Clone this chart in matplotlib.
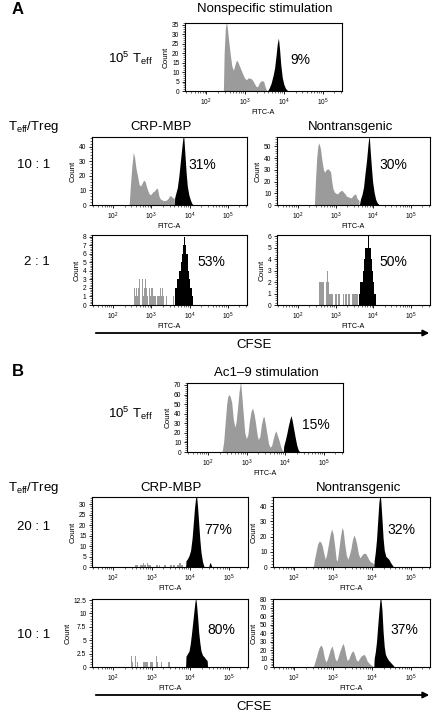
import numpy as np
import matplotlib
matplotlib.use('Agg')
import matplotlib.pyplot as plt
from matplotlib.ticker import MultipleLocator, LogLocator, NullFormatter
from matplotlib.patches import FancyArrowPatch

plt.rcParams['font.family'] = ['Liberation Sans', 'DejaVu Sans']
plt.rcParams['mathtext.default'] = 'regular'

W, H = 445, 718
GRAY = '#9b9b9b'

# ---- data: log10(FITC-A) positions and counts ----
# A, nonspecific stimulation, 10^5 Teff
a_top_gray_x = [2.44, 2.46, 2.49, 2.52, 2.55, 2.58, 2.62, 2.66, 2.70, 2.74, 2.77, 2.80, 2.84, 2.88, 2.92, 2.96,
                3.00, 3.04, 3.08, 3.12, 3.16, 3.20, 3.24, 3.28, 3.32, 3.36, 3.40, 3.44, 3.48, 3.52, 3.56]
a_top_gray_y = [0, 20, 33, 37, 32, 26, 19, 13, 11, 14, 16, 16, 14, 12, 10, 8,
                6.5, 6, 7, 6.8, 6.5, 5.5, 4, 2.5, 2.2, 4, 5.2, 5.5, 5, 2, 0]
a_top_black_x = [3.58, 3.62, 3.67, 3.72, 3.76, 3.80, 3.83, 3.86, 3.89, 3.92, 3.96, 4.00, 4.04, 4.08, 4.12]
a_top_black_y = [0, 1.5, 4, 8, 12, 19, 25, 28, 22, 14, 7, 3.5, 1.5, 0.5, 0]

# A, 10:1, CRP-MBP
a_crp10_gray_x = [2.42, 2.45, 2.49, 2.53, 2.56, 2.60, 2.64, 2.68, 2.72, 2.76, 2.80, 2.84, 2.88, 2.92, 2.96, 3.00,
                  3.04, 3.08, 3.12, 3.16, 3.20, 3.24, 3.28, 3.32, 3.36, 3.40, 3.44, 3.48, 3.52, 3.56, 3.60]
a_crp10_gray_y = [0, 12, 26, 36, 33, 25, 20, 14, 13, 15, 17, 16, 12, 9, 7, 7.5,
                  9, 9.5, 11, 11.5, 6, 4, 3.5, 3, 3, 3.5, 4.5, 6.5, 6, 5, 4.5]
a_crp10_black_x = [3.60, 3.61, 3.64, 3.68, 3.72, 3.76, 3.80, 3.83, 3.85, 3.88, 3.91, 3.94, 3.98, 4.02, 4.06, 4.10]
a_crp10_black_y = [0, 5, 8, 12, 20, 30, 40, 47, 46, 34, 22, 13, 7, 3.5, 1, 0]

# A, 10:1, nontransgenic
a_non10_gray_x = [2.44, 2.47, 2.50, 2.53, 2.56, 2.60, 2.64, 2.68, 2.71, 2.75, 2.79, 2.83, 2.87, 2.90, 2.93, 2.97,
                  3.01, 3.05, 3.09, 3.13, 3.17, 3.21, 3.25, 3.29, 3.33, 3.37, 3.41, 3.45, 3.49, 3.53, 3.57, 3.62]
a_non10_gray_y = [0, 22, 40, 50, 53, 48, 38, 30, 28, 30, 31, 30, 28, 20, 14, 11,
                  10, 9.5, 11, 12, 12.5, 11, 9.5, 7.5, 7, 6.5, 6, 7.5, 9, 9.5, 5.5, 4]
a_non10_black_x = [3.63, 3.66, 3.70, 3.74, 3.78, 3.82, 3.86, 3.89, 3.92, 3.95, 3.98, 4.02, 4.06, 4.10, 4.16]
a_non10_black_y = [0, 5, 9, 15, 27, 38, 52, 60, 45, 32, 20, 11, 5, 2, 0]

# A, 2:1, CRP-MBP (few events, binned)
a_crp2_gray_x = [2.55, 2.58, 2.61, 2.64, 2.67, 2.70, 2.73, 2.76, 2.79, 2.82, 2.85, 2.88, 2.91, 2.94, 2.97, 3.00,
                 3.03, 3.06, 3.09, 3.12, 3.15, 3.18, 3.21, 3.24, 3.27, 3.30, 3.33, 3.39, 3.57]
a_crp2_gray_y = [2, 1, 2, 1, 2, 3, 2, 3, 1, 2, 3, 2, 1, 2, 1, 2,
                 2, 1, 1, 1, 1, 1, 1, 2, 1, 2, 1, 1, 1]
a_crp2_black_x = [3.63, 3.66, 3.69, 3.72, 3.75, 3.78, 3.81, 3.84, 3.87, 3.90, 3.93, 3.96, 3.99, 4.02, 4.05, 4.08]
a_crp2_black_y = [2, 2, 3, 3, 4, 5, 6, 7, 8, 7, 6, 4, 3, 2, 2, 1]

# A, 2:1, nontransgenic
a_non2_gray_x = [2.57, 2.60, 2.63, 2.66, 2.69, 2.72, 2.75, 2.78, 2.81, 2.84, 2.87, 2.90, 2.93, 2.99, 3.02,
                 3.08, 3.11, 3.17, 3.20, 3.26, 3.29, 3.35, 3.38, 3.44, 3.47, 3.50, 3.53, 3.56, 3.59]
a_non2_gray_y = [2, 2, 2, 2, 2, 1, 2, 3, 2, 1, 1, 1, 1, 1, 1,
                 1, 1, 1, 1, 1, 1, 1, 1, 1, 1, 1, 1, 1, 1]
a_non2_black_x = [3.64, 3.67, 3.70, 3.73, 3.76, 3.79, 3.82, 3.85, 3.88, 3.91, 3.94, 3.97, 4.00, 4.03, 4.06]
a_non2_black_y = [1, 2, 2, 3, 4, 5, 5, 5, 6, 5, 4, 3, 2, 1, 1]

# B, Ac1-9 stimulation, 10^5 Teff
b_top_gray_x = [2.36, 2.40, 2.44, 2.48, 2.51, 2.54, 2.57, 2.61, 2.65, 2.69, 2.72, 2.76, 2.80, 2.84, 2.87, 2.91,
                2.95, 2.99, 3.03, 3.07, 3.11, 3.15, 3.19, 3.23, 3.27, 3.30, 3.34, 3.38, 3.42, 3.45, 3.49, 3.53,
                3.57, 3.61, 3.65, 3.69, 3.73, 3.76, 3.80, 3.84, 3.88, 3.92, 3.95]
b_top_gray_y = [0, 10, 30, 50, 58, 60, 58, 52, 35, 26, 30, 45, 62, 74, 60, 40,
                20, 14, 18, 32, 42, 46, 40, 30, 18, 13, 16, 28, 36, 37, 28, 18,
                8, 5, 7, 14, 20, 22, 17, 12, 6, 2, 0]
b_top_black_x = [3.95, 3.96, 4.00, 4.04, 4.08, 4.12, 4.15, 4.18, 4.22, 4.26, 4.30, 4.34, 4.38]
b_top_black_y = [0, 6, 12, 19, 27, 34, 38, 33, 24, 15, 7, 2, 0]

# B, 20:1, CRP-MBP
b_crp20_gray_x = [2.58, 2.61, 2.64, 2.67, 2.70, 2.73, 2.76, 2.79, 2.82, 2.85, 2.88, 2.91, 2.94, 2.97,
                  3.12, 3.15, 3.21, 3.33, 3.36, 3.48, 3.51, 3.57, 3.60, 3.66, 3.69, 3.72, 3.75, 3.78, 3.81]
b_crp20_gray_y = [1, 1, 1, 1, 1, 1, 1, 2, 1, 1, 2, 1, 1, 1,
                  1, 1, 1, 1, 1, 1, 1, 1, 1, 1, 1, 2, 2, 1, 1]
b_crp20_black_x = [3.88, 3.89, 3.93, 3.97, 4.01, 4.05, 4.08, 4.11, 4.14, 4.16, 4.19, 4.22, 4.25, 4.28, 4.32,
                   4.36, 4.48, 4.50, 4.52, 4.54, 4.56]
b_crp20_black_y = [0, 3, 4, 5.5, 8, 14, 21, 28, 33, 35, 29, 21, 13, 7, 2.5,
                   0, 0, 1.5, 2.2, 1.2, 0]

# B, 20:1, nontransgenic
b_non20_gray_x = [2.49, 2.52, 2.56, 2.60, 2.64, 2.68, 2.72, 2.76, 2.80, 2.84, 2.88, 2.92, 2.96, 3.00, 3.04,
                  3.08, 3.11, 3.15, 3.19, 3.23, 3.26, 3.30, 3.34, 3.38, 3.42, 3.46, 3.50, 3.54, 3.57, 3.61,
                  3.65, 3.69, 3.72, 3.76, 3.80, 3.84, 3.88, 3.92, 3.96, 4.00, 4.05]
b_non20_gray_y = [0, 5, 10, 15, 17, 16.5, 14, 9, 5, 9, 15, 21, 25, 22, 14,
                  5, 4, 12, 20, 26, 24, 15, 8, 5, 8, 12, 18, 21, 19, 15,
                  9, 6, 7, 8.5, 9, 9, 7, 5, 3.5, 3, 2]
b_non20_black_x = [4.05, 4.06, 4.09, 4.12, 4.15, 4.18, 4.21, 4.23, 4.26, 4.29, 4.32, 4.36, 4.40, 4.44, 4.48,
                   4.52, 4.56]
b_non20_black_y = [0, 4, 10, 18, 30, 42, 48, 44, 32, 19, 11, 7, 6, 5, 3, 1.5, 0]

# B, 10:1, CRP-MBP
b_crp10_gray_x = [2.47, 2.50, 2.59, 2.62, 2.78, 2.81, 2.84, 2.87, 2.90, 2.93, 2.96, 2.99, 3.02, 3.13, 3.16,
                  3.25, 3.44, 3.47]
b_crp10_gray_y = [2, 1, 2, 1, 1, 1, 1, 1, 1, 1, 1, 1, 1, 2, 1, 1, 1, 1]
b_crp10_black_x = [3.88, 3.89, 3.93, 3.97, 4.00, 4.03, 4.06, 4.09, 4.12, 4.14, 4.16, 4.19, 4.22, 4.25, 4.28,
                   4.32, 4.36, 4.40, 4.44, 4.45]
b_crp10_black_y = [0, 2, 2.5, 3, 4.3, 6, 8, 10, 12, 13, 12, 9.5, 6.5, 4.5, 3, 2.2, 1.9, 1.5, 1.2, 0]

# B, 10:1, nontransgenic
b_non10_gray_x = [2.49, 2.53, 2.57, 2.61, 2.65, 2.69, 2.73, 2.77, 2.81, 2.85, 2.89, 2.93, 2.97, 3.01, 3.05,
                  3.09, 3.13, 3.17, 3.21, 3.25, 3.28, 3.32, 3.36, 3.40, 3.44, 3.48, 3.52, 3.56, 3.60, 3.64,
                  3.68, 3.72, 3.76, 3.80, 3.84, 3.88, 3.92, 3.96, 4.00, 4.04]
b_non10_gray_y = [0, 6, 12, 19, 24, 26, 22, 12, 6, 9, 15, 21, 25, 19, 10,
                  7, 12, 18, 23, 28, 25, 16, 8, 9, 14, 18, 19, 14, 8, 7,
                  10, 13, 14, 15, 12, 7, 5, 3, 2, 0]
b_non10_black_x = [4.05, 4.06, 4.09, 4.12, 4.15, 4.18, 4.21, 4.23, 4.26, 4.29, 4.32, 4.35, 4.39, 4.43, 4.47,
                   4.51, 4.55, 4.58]
b_non10_black_y = [0, 10, 18, 30, 48, 65, 80, 82, 68, 42, 24, 15, 11, 8, 6, 4, 2, 0]

percents = ['9%', '31%', '30%', '53%', '50%', '15%', '77%', '32%', '80%', '37%']


def px_box(x0, y0, x1, y1):
    return [x0 / W, 1 - y1 / H, (x1 - x0) / W, (y1 - y0) / H]


def ftext(x, y, s, **kw):
    fig.text(x / W, 1 - y / H, s, **kw)


def smooth(ax, lx, y, c):
    ax.fill_between(10 ** np.array(lx), y, color=c, lw=0)


def bars(ax, lx, y, c, w):
    lx = np.array(lx)
    left = 10 ** (lx - w / 2)
    right = 10 ** (lx + w / 2)
    ax.bar(left, y, width=right - left, align='edge', color=c, lw=0)


def make_axes(box, ymax, major, minor, pct, pxy):
    ax = fig.add_axes(px_box(*box))
    ax.set_xscale('log')
    ax.set_xlim(10 ** 1.45, 10 ** 5.5)
    ax.set_ylim(0, ymax)
    ax.xaxis.set_major_locator(LogLocator(base=10, numticks=10))
    ax.xaxis.set_minor_locator(LogLocator(base=10, subs=np.arange(2, 10), numticks=20))
    ax.xaxis.set_minor_formatter(NullFormatter())
    ax.yaxis.set_major_locator(MultipleLocator(major))
    ax.yaxis.set_minor_locator(MultipleLocator(minor))
    ax.yaxis.set_major_formatter('{x:g}')
    ax.tick_params(which='major', direction='out', length=2.5, width=0.6, labelsize=4.8, pad=1.5)
    ax.tick_params(which='minor', direction='out', length=1.5, width=0.4)
    for s in ax.spines.values():
        s.set_linewidth(0.8)
    ax.set_xlabel('FITC-A', fontsize=5.2, labelpad=1)
    ax.set_ylabel('Count', fontsize=5.8, labelpad=1.5)
    ax.text(pxy[0], pxy[1], pct, transform=ax.transAxes, fontsize=10, va='center', ha='left')
    return ax


fig = plt.figure(figsize=(W / 100, H / 100), dpi=100)

# panel A
ax = make_axes((185, 23, 342, 91), 36, 5, 1, percents[0], (0.67, 0.46))
smooth(ax, a_top_gray_x, a_top_gray_y, GRAY)
smooth(ax, a_top_black_x, a_top_black_y, 'black')

ax = make_axes((92, 137, 247, 205), 46.5, 10, 2, percents[1], (0.62, 0.59))
smooth(ax, a_crp10_gray_x, a_crp10_gray_y, GRAY)
smooth(ax, a_crp10_black_x, a_crp10_black_y, 'black')

ax = make_axes((277, 137, 430, 205), 58, 10, 2, percents[2], (0.67, 0.59))
smooth(ax, a_non10_gray_x, a_non10_gray_y, GRAY)
smooth(ax, a_non10_black_x, a_non10_black_y, 'black')

ax = make_axes((92, 235, 247, 305), 8.2, 1, 0.2, percents[3], (0.68, 0.61))
bars(ax, a_crp2_gray_x, a_crp2_gray_y, GRAY, 0.025)
bars(ax, a_crp2_black_x, a_crp2_black_y, 'black', 0.031)

ax = make_axes((277, 235, 430, 305), 6.1, 1, 0.2, percents[4], (0.67, 0.61))
bars(ax, a_non2_gray_x, a_non2_gray_y, GRAY, 0.025)
bars(ax, a_non2_black_x, a_non2_black_y, 'black', 0.031)

# panel B
ax = make_axes((187, 383, 343, 452), 72, 10, 2, percents[5], (0.74, 0.39))
smooth(ax, b_top_gray_x, b_top_gray_y, GRAY)
smooth(ax, b_top_black_x, b_top_black_y, 'black')

ax = make_axes((92, 497, 248, 567), 33.5, 5, 1, percents[6], (0.72, 0.53))
bars(ax, b_crp20_gray_x, b_crp20_gray_y, GRAY, 0.025)
smooth(ax, b_crp20_black_x, b_crp20_black_y, 'black')

ax = make_axes((273, 497, 430, 567), 46, 10, 2, percents[7], (0.73, 0.53))
smooth(ax, b_non20_gray_x, b_non20_gray_y, GRAY)
smooth(ax, b_non20_black_x, b_non20_black_y, 'black')

ax = make_axes((92, 599, 248, 667), 12.7, 2.5, 0.5, percents[8], (0.74, 0.54))
bars(ax, b_crp10_gray_x, b_crp10_gray_y, GRAY, 0.025)
smooth(ax, b_crp10_black_x, b_crp10_black_y, 'black')

ax = make_axes((273, 599, 430, 667), 80.5, 10, 2, percents[9], (0.745, 0.54))
smooth(ax, b_non10_gray_x, b_non10_gray_y, GRAY)
smooth(ax, b_non10_black_x, b_non10_black_y, 'black')

# labels
ftext(18, 10, 'A', fontsize=12, fontweight='bold', ha='center', va='center')
ftext(18, 372, 'B', fontsize=12, fontweight='bold', ha='center', va='center')
ftext(265, 9, 'Nonspecific stimulation', fontsize=9.5, ha='center', va='center')
ftext(266, 373, 'Ac1–9 stimulation', fontsize=9.5, ha='center', va='center')
for y in (58, 413):
    ftext(130, y, '$10^5$ T$_{eff}$', fontsize=9.5, ha='center', va='center')
for y in (127, 488):
    ftext(8, y, 'T$_{eff}$/Treg', fontsize=9.5, ha='left', va='center')
ftext(161, 127, 'CRP-MBP', fontsize=9.5, ha='center', va='center')
ftext(351, 127, 'Nontransgenic', fontsize=9.5, ha='center', va='center')
ftext(171, 488, 'CRP-MBP', fontsize=9.5, ha='center', va='center')
ftext(359, 488, 'Nontransgenic', fontsize=9.5, ha='center', va='center')
ftext(50, 165, '10 : 1', fontsize=9.5, ha='right', va='center')
ftext(50, 262, '2 : 1', fontsize=9.5, ha='right', va='center')
ftext(50, 527, '20 : 1', fontsize=9.5, ha='right', va='center')
ftext(50, 635, '10 : 1', fontsize=9.5, ha='right', va='center')

for ya, yt in ((333, 345), (695, 707)):
    fig.add_artist(FancyArrowPatch((93 / W, 1 - ya / H), (432 / W, 1 - ya / H), transform=fig.transFigure,
                                   arrowstyle='-|>', mutation_scale=9, lw=1.3, color='black'))
    ftext(254, yt, 'CFSE', fontsize=9.5, ha='center', va='center')

fig.savefig('out.png', dpi=100)
